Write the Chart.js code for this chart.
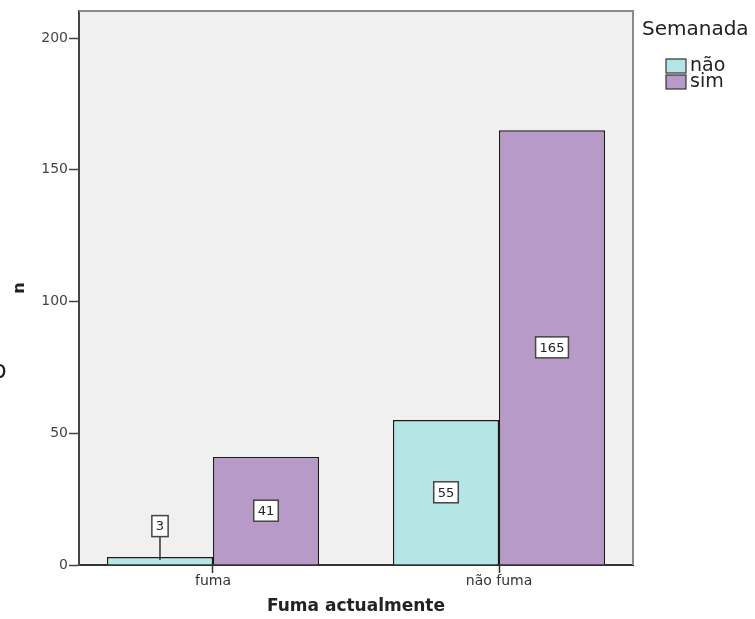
<!DOCTYPE html>
<html>
<head>
<meta charset="utf-8">
<script src="https://cdn.jsdelivr.net/npm/chart.js@4/dist/chart.umd.min.js"></script>
<style>
  html, body { margin: 0; padding: 0; background: #fff; }
  #wrap { width: 755px; height: 619px; position: relative; }
</style>
</head>
<body>
<div id="wrap"><canvas id="Graph"></canvas></div>
<script>
// Chart data
const categories = ['fuma', 'não fuma'];
const seriesNames = ['não', 'sim'];
const naoValues = [3, 55];
const simValues = [41, 165];
const yTicks = [0, 50, 100, 150, 200];
const seriesColors = ['#b4e6e6', '#b89ac9'];

// Background panel + frame
const panelPlugin = {
    id: 'panel',
    beforeDraw(chart) {
        const { ctx, chartArea: a } = chart;
        ctx.save();
        ctx.fillStyle = '#f0f0f0';
        ctx.fillRect(a.left, a.top, a.right - a.left, a.bottom - a.top);
        ctx.restore();
    },
    afterDraw(chart) {
        const { ctx, chartArea: a } = chart;
        ctx.save();
        ctx.strokeStyle = '#8a8a8a';
        ctx.lineWidth = 2;
        ctx.beginPath();
        ctx.moveTo(a.left, a.top);
        ctx.lineTo(a.right, a.top);
        ctx.lineTo(a.right, a.bottom);
        ctx.stroke();

        // legend
        ctx.fillStyle = '#222';
        ctx.font = '20px "DejaVu Sans"';
        ctx.textBaseline = 'middle';
        ctx.textAlign = 'left';
        ctx.fillText('Semanada', 642, 30);
        seriesNames.forEach((name, i) => {
            const y = 59 + i * 16;
            ctx.fillStyle = seriesColors[i];
            ctx.fillRect(666, y, 20, 14);
            ctx.strokeStyle = '#333';
            ctx.lineWidth = 1.2;
            ctx.strokeRect(666, y, 20, 14);
            ctx.fillStyle = '#222';
            ctx.font = '19px "DejaVu Sans"';
            ctx.fillText(name, 690, y + 7);
        });

        // cut-off letter at the left edge
        ctx.font = '24px "DejaVu Sans"';
        ctx.textBaseline = 'alphabetic';
        ctx.fillText('o', -8, 378);
        ctx.restore();
    }
};

// Value boxes in the bars
const boxLabels = {
    id: 'boxLabels',
    afterDatasetsDraw(chart) {
        const ctx = chart.ctx;
        ctx.save();
        ctx.font = '13px "DejaVu Sans"';
        ctx.textAlign = 'center';
        ctx.textBaseline = 'middle';
        chart.data.datasets.forEach((ds, di) => {
            chart.getDatasetMeta(di).data.forEach((bar, i) => {
                const text = String(ds.data[i].y);
                const w = ctx.measureText(text).width + 8;
                const h = 21;
                let cy = (bar.y + bar.base) / 2;
                const small = bar.base - bar.y < 30;
                if (small) cy = bar.y - 31;
                if (small) {
                    ctx.strokeStyle = '#333';
                    ctx.lineWidth = 1.5;
                    ctx.beginPath();
                    ctx.moveTo(bar.x, cy + h / 2);
                    ctx.lineTo(bar.x, bar.y + 3);
                    ctx.stroke();
                }
                ctx.fillStyle = '#fff';
                ctx.fillRect(bar.x - w / 2, cy - h / 2, w, h);
                ctx.strokeStyle = '#444';
                ctx.lineWidth = 1.5;
                ctx.strokeRect(bar.x - w / 2, cy - h / 2, w, h);
                ctx.fillStyle = '#222';
                ctx.fillText(text, bar.x, cy + 1);
            });
        });
        ctx.restore();
    }
};

const ctx = document.getElementById('Graph').getContext('2d');
new Chart(ctx, {
    type: 'bar',
    data: {
        datasets: [
            {
                label: seriesNames[0],
                data: naoValues.map((v, i) => ({ x: i, y: v })),
                backgroundColor: seriesColors[0],
                borderColor: '#1a1a1a',
                borderWidth: 1.4
            },
            {
                label: seriesNames[1],
                data: simValues.map((v, i) => ({ x: i, y: v })),
                backgroundColor: seriesColors[1],
                borderColor: '#1a1a1a',
                borderWidth: 1.4
            }
        ]
    },
    options: {
        responsive: true,
        maintainAspectRatio: false,
        animation: false,
        categoryPercentage: 0.7413,
        barPercentage: 1,
        layout: { padding: { top: 11, right: 122, left: 0, bottom: 0 } },
        plugins: {
            legend: { display: false },
            tooltip: { enabled: false }
        },
        scales: {
            x: {
                type: 'linear',
                offset: false,
                min: -0.4685,
                max: 1.4685,
                afterBuildTicks: (s) => { s.ticks = categories.map((c, i) => ({ value: i })); },
                afterFit: (s) => { s.height = 54; },
                ticks: {
                    callback: (v) => categories[v],
                    color: '#333',
                    font: { family: 'DejaVu Sans', size: 14 },
                    padding: 0,
                    maxRotation: 0
                },
                grid: { offset: false, drawOnChartArea: false, tickLength: 8, tickColor: '#333', tickWidth: 1.5 },
                border: { color: '#333', width: 2 },
                title: {
                    display: true,
                    text: 'Fuma actualmente',
                    color: '#222',
                    font: { family: 'DejaVu Sans', size: 17, weight: 'bold' },
                    padding: { top: 0, bottom: 2 }
                }
            },
            y: {
                min: 0,
                max: 210.25,
                afterBuildTicks: (s) => { s.ticks = yTicks.map(v => ({ value: v })); },
                afterFit: (s) => { s.width = 79; },
                ticks: {
                    color: '#444',
                    font: { family: 'DejaVu Sans', size: 14 },
                    padding: 1
                },
                grid: { drawOnChartArea: false, tickLength: 10, tickColor: '#444', tickWidth: 1.5 },
                border: { color: '#444', width: 2 },
                title: {
                    display: true,
                    text: 'n',
                    color: '#222',
                    font: { family: 'DejaVu Sans', size: 16, weight: 'bold' },
                    padding: { top: 10, bottom: 0 }
                }
            }
        }
    },
    plugins: [panelPlugin, boxLabels]
});
</script>
</body>
</html>
